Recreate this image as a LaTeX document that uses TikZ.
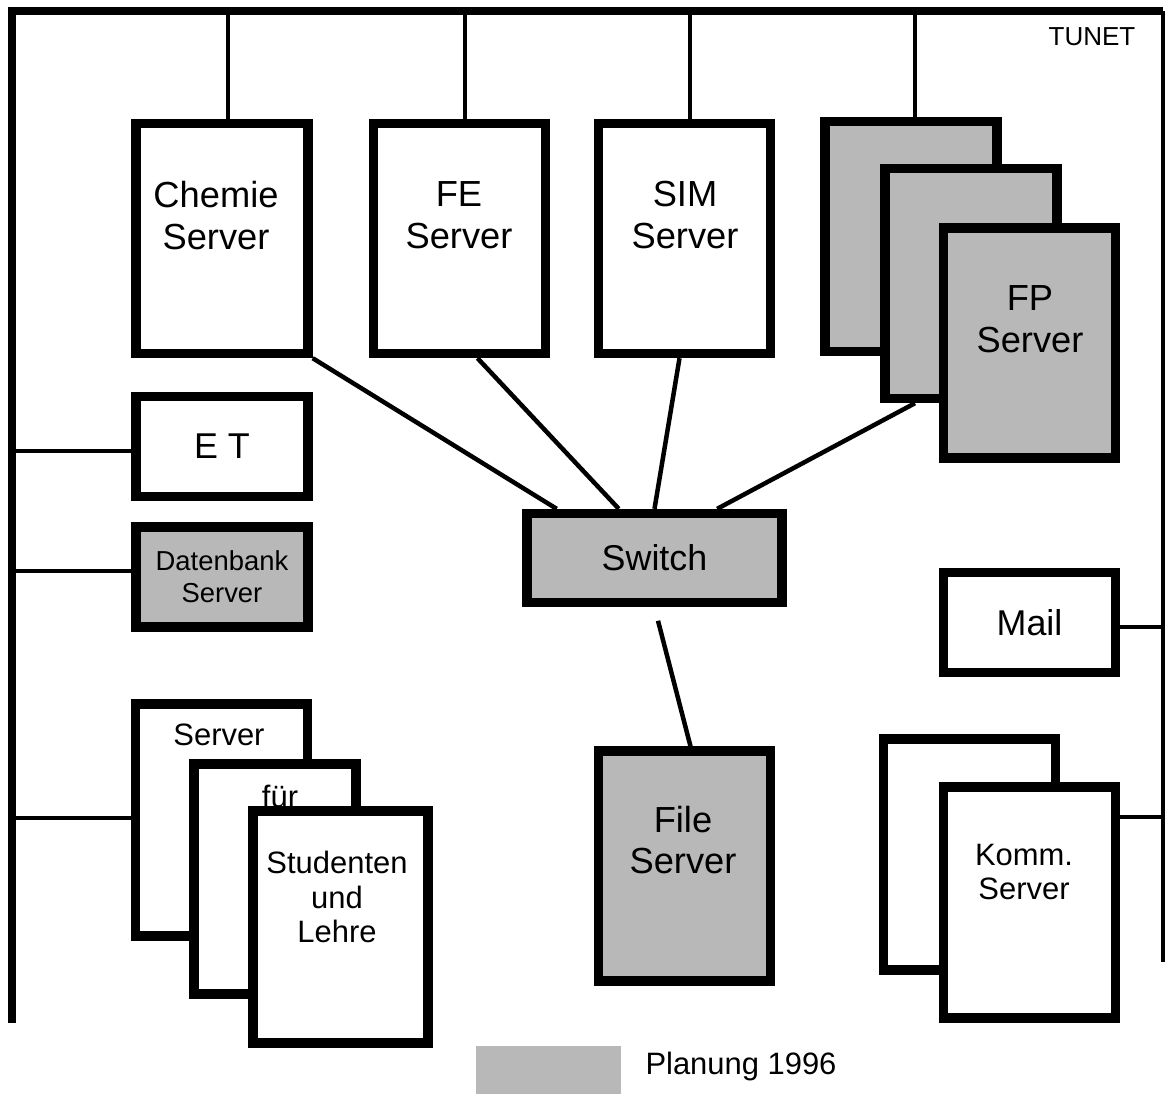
\documentclass[tikz,border=0pt]{standalone}
\usepackage{fontspec}
\setmainfont{Liberation Sans}
\usepackage{tikz}
\usetikzlibrary{calc}
\definecolor{tnplan}{HTML}{B8B8B8}
\definecolor{tnink}{HTML}{000000}

\begin{document}
\begin{tikzpicture}[x=0.025cm, y=-0.025cm,
  srv/.style={draw=tnink, line width=6.6pt, fill=white, minimum width=4.3cm, minimum height=5.75cm, inner sep=0pt},
  srvplan/.style={srv, fill=tnplan},
  flat/.style={draw=tnink, line width=6.6pt, fill=white, minimum width=4.3cm, minimum height=2.5cm, inner sep=0pt, font=\fontsize{25.5}{30}\selectfont},
  txt/.style={align=center, inner sep=0pt, font=\fontsize{25.8}{29.8}\selectfont},
  smalltxt/.style={align=center, inner sep=0pt, font=\fontsize{22}{24.5}\selectfont},
  bus/.style={draw=tnink, line width=5pt},
  lnk/.style={draw=tnink, line width=3.2pt}]
  \useasboundingbox (0,0) rectangle (1167,1094);

  % TUNET backbone
  \coordinate (tl) at (12,11);
  \coordinate (bl) at (12,1023);
  \coordinate (tr) at (1163,11);
  \coordinate (br) at (1163,962);
  \draw[bus] (bl) -- (tl) -- (tr);
  \draw[bus, line width=2.9pt] (tr) -- (br);
  \node[inner sep=0pt, font=\fontsize{18.5}{20}\selectfont] (tunet) at (1092,37) {TUNET};

  % servers on top
  \node[srv] (chem) at (222,238.5) {};
  \node[txt] (chemtxt) at (216,215.5) {Chemie\\Server};
  \node[srv] (fe) at (459.5,238.5) {};
  \node[txt] (fetxt) at (459,215) {FE\\Server};
  \node[srv] (sim) at (684.5,238.5) {};
  \node[txt] (simtxt) at (685,215) {SIM\\Server};

  % FP server stack
  \node[srvplan] (fp1) at (911,236.5) {};
  \node[srvplan] (fp2) at (971,283.5) {};
  \node[srvplan] (fp3) at (1029.5,343) {};
  \node[txt] (fptxt) at (1030,319) {FP\\Server};

  % left side
  \node[flat] (et) at (222,446.5) {E T};
  \node[flat, fill=tnplan, font=\fontsize{19.5}{22.7}\selectfont, align=center] (db) at (222,577) {Datenbank\\Server};

  % switch and file server
  \node[flat, fill=tnplan, minimum width=6.375cm, minimum height=2.225cm] (sw) at (654.5,558) {Switch};
  \node[srvplan] (file) at (684.5,866) {};
  \node[txt] (filetxt) at (683,840) {File\\Server};

  % right side
  \node[flat] (mail) at (1029.5,622.5) {Mail};
  \node[srv, minimum height=5.775cm] (komm1) at (969.5,854.5) {};
  \node[srv, minimum height=5.775cm] (komm2) at (1029.5,902.5) {};
  \node[smalltxt] (kommtxt) at (1024,872) {Komm.\\Server};

  % server stack for students
  \node[srv, minimum height=5.8cm] (stud1) at (221.5,820) {};
  \node[smalltxt] (stud1txt) at (219,735) {Server};
  \node[srv, minimum width=4.05cm, minimum height=5.75cm] (stud2) at (275,879) {};
  \node[smalltxt] (stud2txt) at (280,796) {für};
  \node[srv, minimum width=4.375cm, minimum height=5.8cm] (stud3) at (340.5,927) {};
  \node[smalltxt] (stud3txt) at (337,897) {Studenten\\und\\Lehre};

  % taps on the backbone
  \coordinate (tapchem) at (228,11);
  \coordinate (tapfe) at (465,11);
  \coordinate (tapsim) at (690,11);
  \coordinate (tapfp) at (915,11);
  \coordinate (tapet) at (12,451);
  \coordinate (tapdb) at (12,571);
  \coordinate (tapstud) at (12,818);
  \coordinate (tapmail) at (1163,627);
  \coordinate (tapkomm) at (1163,817);
  \draw[lnk] (tapchem) -- (tapchem |- chem.north);
  \draw[lnk] (tapfe) -- (tapfe |- fe.north);
  \draw[lnk] (tapsim) -- (tapsim |- sim.north);
  \draw[lnk] (tapfp) -- (tapfp |- fp1.north);
  \draw[lnk] (tapet) -- (tapet -| et.west);
  \draw[lnk] (tapdb) -- (tapdb -| db.west);
  \draw[lnk] (tapstud) -- (tapstud -| stud1.west);
  \draw[lnk] (tapmail) -- (tapmail -| mail.east);
  \draw[lnk] (tapkomm) -- (tapkomm -| komm2.east);

  % links to the switch
  \draw[lnk] (chem.south east) -- ($(sw.north west)!0.13!(sw.north east)$);
  \draw[lnk] ($(fe.south)+(18,0)$) -- ($(sw.north west)!0.365!(sw.north east)$);
  \draw[lnk] ($(sim.south)+(-5,0)$) -- (sw.north);
  \draw[lnk] ($(fp2.south)+(-56,0)$) -- ($(sw.north west)!0.737!(sw.north east)$);
  \draw[lnk, shorten <=10pt] (sw.south) -- ($(file.north)+(6,0)$);

  % legend
  \node[fill=tnplan, minimum width=3.625cm, minimum height=1.2cm, inner sep=0pt] (legend) at (548.5,1070) {};
  \node[inner sep=0pt, font=\fontsize{22}{24}\selectfont] (legtxt) at (741,1066) {Planung 1996};
\end{tikzpicture}
\end{document}
